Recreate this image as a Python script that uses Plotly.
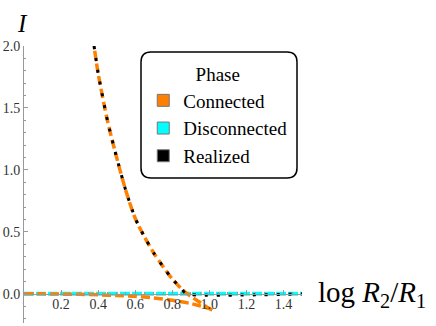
import plotly.graph_objects as go

# Connected phase: lower branch (from origin to turning point) and upper branch
x_lower = [0.0, 0.1, 0.2, 0.3, 0.4, 0.5, 0.6, 0.7, 0.8, 0.9, 0.95, 1.0, 1.015]
y_lower = [0.0, 0.0, -0.002, -0.004, -0.008, -0.013, -0.02, -0.033, -0.052, -0.078, -0.097, -0.118, -0.13]
x_upper = [1.015, 0.99, 0.95, 0.90, 0.85, 0.80, 0.75, 0.70, 0.65, 0.60, 0.55, 0.50, 0.45, 0.40, 0.378]
y_upper = [-0.13, -0.11, -0.07, -0.02, 0.04, 0.12, 0.22, 0.33, 0.46, 0.61, 0.83, 1.10, 1.40, 1.78, 2.0]
# Disconnected phase
x_disc = [0.0, 1.5]
y_disc = [0.0, 0.0]
# Realized
x_real = [0.378, 0.40, 0.45, 0.50, 0.55, 0.60, 0.65, 0.70, 0.75, 0.80, 0.85, 0.875, 1.5]
y_real = [2.0, 1.78, 1.40, 1.10, 0.83, 0.61, 0.46, 0.33, 0.22, 0.12, 0.04, 0.0, 0.0]

x_ticks = [0.2, 0.4, 0.6, 0.8, 1.0, 1.2, 1.4]
y_ticks = [0.0, 0.5, 1.0, 1.5, 2.0]
phases = ["Connected", "Disconnected", "Realized"]
phase_colors = ["#FF8000", "#00FFFF", "#000000"]

ORANGE, CYAN = phase_colors[0], phase_colors[1]
SERIF = "Liberation Serif"

fig = go.Figure()
fig.add_trace(go.Scatter(x=x_disc, y=y_disc, mode="lines", showlegend=False,
                         line=dict(color=CYAN, width=4, dash="10px,2px")))
fig.add_trace(go.Scatter(x=x_lower, y=y_lower, mode="lines", showlegend=False,
                         line=dict(color=ORANGE, width=3.5, dash="9px,4px", shape="spline", smoothing=0.8)))
fig.add_trace(go.Scatter(x=x_upper, y=y_upper, mode="lines", showlegend=False,
                         line=dict(color=ORANGE, width=3.5, dash="9px,4px", shape="spline", smoothing=0.8)))
fig.add_trace(go.Scatter(x=x_real, y=y_real, mode="lines", showlegend=False,
                         line=dict(color="black", width=3, dash="3px,9px", shape="spline", smoothing=0.5)))

# legend swatches
for name, col in zip(phases, phase_colors):
    fig.add_trace(go.Scatter(x=[None], y=[None], mode="markers", name=name, legendgroup=name,
                             marker=dict(symbol="square", size=12, color=col,
                                         line=dict(color="#777777", width=1))))

ymin, ymax = -0.235, 2.0
axis_font = dict(family=SERIF, size=14, color="#333333")
fig.update_layout(
    width=436, height=326,
    margin=dict(l=24, r=134, t=46, b=3, autoexpand=False),
    paper_bgcolor="white", plot_bgcolor="white",
    font=dict(family=SERIF, size=14, color="#333333"),
    xaxis=dict(range=[0, 1.5], anchor="free", position=(0 - ymin) / (ymax - ymin),
               automargin=False, ticklabelstandoff=-3,
               showgrid=False, zeroline=False, showline=True, linecolor="#999999", linewidth=1,
               tickmode="array", tickvals=x_ticks, ticktext=[f"{v:.1f}" for v in x_ticks],
               ticks="inside", ticklen=4, tickcolor="#999999",
               minor=dict(dtick=0.05, tick0=0, ticks="inside", ticklen=2, tickcolor="#999999"),
               tickfont=axis_font),
    yaxis=dict(range=[ymin, ymax], automargin=False,
               showgrid=False, zeroline=False, showline=True,
               linecolor="#999999", linewidth=1,
               tickmode="array", tickvals=y_ticks, ticktext=[f"{v:.1f}" for v in y_ticks],
               ticks="inside", ticklen=4, tickcolor="#999999",
               minor=dict(dtick=0.1, tick0=0, ticks="inside", ticklen=2, tickcolor="#999999"),
               tickfont=axis_font),
    legend=dict(x=0.429, y=0.961, xanchor="left", yanchor="top",
                bgcolor="rgba(0,0,0,0)", borderwidth=0,
                font=dict(family=SERIF, size=19, color="black"),
                title=dict(text="Phase", side="top center", font=dict(family=SERIF, size=19, color="black")),
                traceorder="grouped", tracegroupgap=0),
    annotations=[
        dict(text="<i>I</i>", xref="paper", yref="paper", x=-0.004, y=1.083,
             xanchor="center", yanchor="middle",
             showarrow=False, font=dict(family=SERIF, size=25, color="black")),
        dict(text="log <i>R</i><sub>2</sub>/<i>R</i><sub>1</sub>", xref="paper", yref="y",
             x=1.05, y=0, xanchor="left", yanchor="middle", showarrow=False,
             font=dict(family=SERIF, size=29, color="black")),
    ],
)

# rounded legend frame
px0, px1 = 141, 297
py0, py1 = 52, 178
W, H = 278, 277
def xp(p):
    return (p - 24) / W
def yp(p):
    return (323 - p) / H
r = 10
path = (f"M {xp(px0 + r)},{yp(py0)} L {xp(px1 - r)},{yp(py0)} "
        f"Q {xp(px1)},{yp(py0)} {xp(px1)},{yp(py0 + r)} L {xp(px1)},{yp(py1 - r)} "
        f"Q {xp(px1)},{yp(py1)} {xp(px1 - r)},{yp(py1)} L {xp(px0 + r)},{yp(py1)} "
        f"Q {xp(px0)},{yp(py1)} {xp(px0)},{yp(py1 - r)} L {xp(px0)},{yp(py0 + r)} "
        f"Q {xp(px0)},{yp(py0)} {xp(px0 + r)},{yp(py0)} Z")
fig.add_shape(type="path", path=path, xref="paper", yref="paper",
              line=dict(color="black", width=1.5), fillcolor="white", layer="below")

fig.write_html("out.html", config={"displayModeBar": False},
               post_script="document.body.style.margin='0';")
